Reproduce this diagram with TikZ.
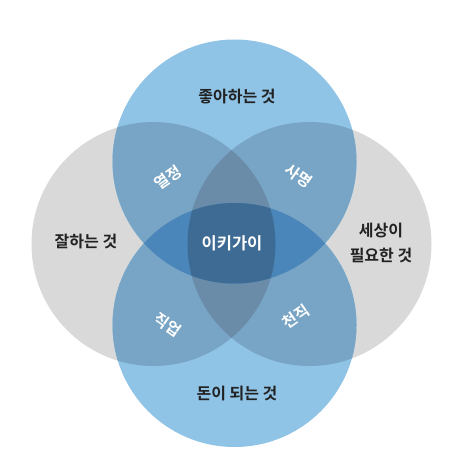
\documentclass[tikz,border=0pt]{standalone}
\usepackage{fontspec}
\setmainfont{Noto Sans CJK KR}[BoldFont={Noto Sans CJK KR Bold}]
\definecolor{cgray}{HTML}{D9D9D9}
\definecolor{cblue}{HTML}{8FC4E6}
\definecolor{cbg}{HTML}{78A5C5}
\definecolor{cggb}{HTML}{6A8CA8}
\definecolor{cbbg}{HTML}{4A86B9}
\definecolor{call}{HTML}{3E6B93}
\definecolor{ctext}{HTML}{222222}
\tikzset{
  outerlbl/.style={text=ctext, font=\fontsize{16}{25}\selectfont\bfseries, align=center, inner sep=0pt},
  innerlbl/.style={text=white, font=\fontsize{15.5}{18}\selectfont\bfseries, inner sep=0pt},
}
\begin{document}
\begin{tikzpicture}[x=1pt,y=-1pt]
\useasboundingbox (0,0) rectangle (469,473);
\fill[white] (0,0) rectangle (469,473);
\coordinate (T) at (234.5,161.5);
\coordinate (B) at (234.5,325);
\coordinate (L) at (153.5,244);
\coordinate (R) at (309.5,244);
\def\rr{122}
% single circles
\fill[cgray] (L) circle[radius=\rr];
\fill[cgray] (R) circle[radius=\rr];
\fill[cblue] (T) circle[radius=\rr];
\fill[cblue] (B) circle[radius=\rr];
% blue + gray
\begin{scope}
  \clip (T) circle[radius=\rr];
  \fill[cbg] (L) circle[radius=\rr];
  \fill[cbg] (R) circle[radius=\rr];
\end{scope}
\begin{scope}
  \clip (B) circle[radius=\rr];
  \fill[cbg] (L) circle[radius=\rr];
  \fill[cbg] (R) circle[radius=\rr];
\end{scope}
% gray + gray + blue
\begin{scope}
  \clip (L) circle[radius=\rr];
  \clip (R) circle[radius=\rr];
  \fill[cggb] (T) circle[radius=\rr];
  \fill[cggb] (B) circle[radius=\rr];
\end{scope}
% blue + blue + gray
\begin{scope}
  \clip (T) circle[radius=\rr];
  \clip (B) circle[radius=\rr];
  \fill[cbbg] (L) circle[radius=\rr];
  \fill[cbbg] (R) circle[radius=\rr];
\end{scope}
% all four
\begin{scope}
  \clip (T) circle[radius=\rr];
  \clip (B) circle[radius=\rr];
  \clip (L) circle[radius=\rr];
  \fill[call] (R) circle[radius=\rr];
\end{scope}
% labels
\node[outerlbl] (love) at (237,97) {좋아하는 것};
\node[outerlbl] (money) at (237,394) {돈이 되는 것};
\node[outerlbl] (good) at (86,242) {잘하는 것};
\node[outerlbl] (world) at (381,243) {세상이\\필요한 것};
\node[innerlbl, font=\fontsize{16.5}{18}\selectfont\bfseries] (ikigai) at (232,243) {이키가이};
\node[innerlbl, rotate=35] (passion) at (168,178) {열정};
\node[innerlbl, rotate=-35] (mission) at (299,176) {사명};
\node[innerlbl, rotate=-35] (profession) at (168,325) {직업};
\node[innerlbl, rotate=35] (vocation) at (296,317) {천직};
\end{tikzpicture}
\end{document}
